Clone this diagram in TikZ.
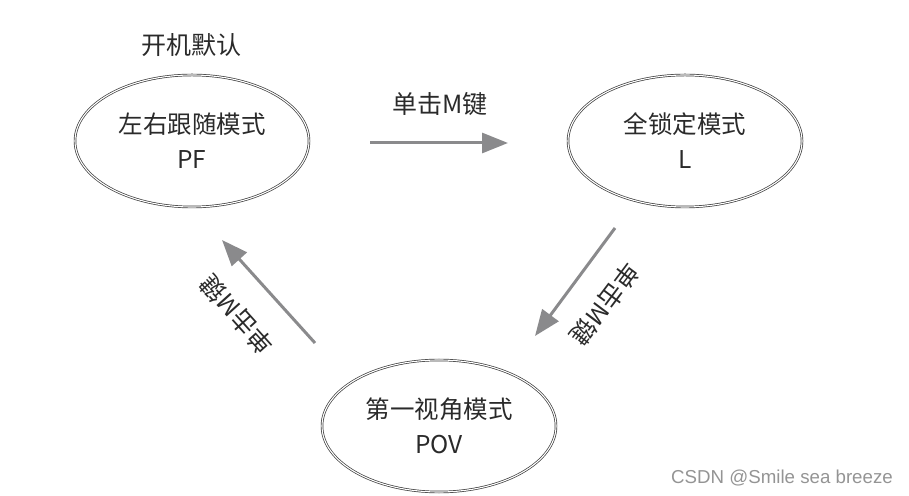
\documentclass[tikz,border=0pt]{standalone}
\usepackage{fontspec}
\setmainfont{Noto Sans CJK SC}
\newfontfamily\markfont{Liberation Sans}
\usetikzlibrary{shapes.geometric,arrows.meta}

\definecolor{modeline}{HTML}{3A3A3A}
\definecolor{arrowgray}{HTML}{8A8A8C}
\definecolor{textdark}{HTML}{2A2A2A}

\tikzset{
  modebox/.style={ellipse, draw=modeline, double, double distance=1.1pt, line width=0.7pt,
    minimum width=234pt, minimum height=132pt, align=center, text=textdark,
    font=\fontsize{24.5}{35}\selectfont},
  switcharrow/.style={draw=arrowgray, line width=3pt,
    -{Triangle[length=26pt,width=20pt]}},
  switchlabel/.style={text=textdark, inner sep=1pt, font=\fontsize{25}{28}\selectfont}
}

\begin{document}
\begin{tikzpicture}[x=1pt,y=1pt]
\useasboundingbox (0,0) rectangle (909,495);

% the three modes
\node[modebox] (pf)  at (192,354) {左右跟随模式\\PF};
\node[modebox] (l)   at (685,354) {全锁定模式\\L};
\node[modebox] (pov) at (439,69)  {第一视角模式\\POV};

% default note
\node[switchlabel] (default) at (191,450) {开机默认};

% arrow ends
\coordinate (pfout) at (370,352);
\coordinate (lin)   at (508,352);
\coordinate (lout)  at (615,267);
\coordinate (povin) at (535,159);
\coordinate (povout) at (315,152);
\coordinate (pfin)  at (222,255);

% switching arrows
\draw[switcharrow] (pfout) -- (lin);
\draw[switcharrow] (lout) -- (povin);
\draw[switcharrow] (povout) -- (pfin);

% labels on the arrows
\node[switchlabel] (key1) at (440,391) {单击M键};
\node[switchlabel, rotate=233] (key2) at (605,191) {单击M键};
\node[switchlabel, rotate=132] (key3) at (237,180) {单击M键};

% watermark
\node[text=black!42, font=\markfont\fontsize{18.7}{21}\selectfont] (mark) at (782,17) {CSDN @Smile sea breeze};
\end{tikzpicture}
\end{document}
